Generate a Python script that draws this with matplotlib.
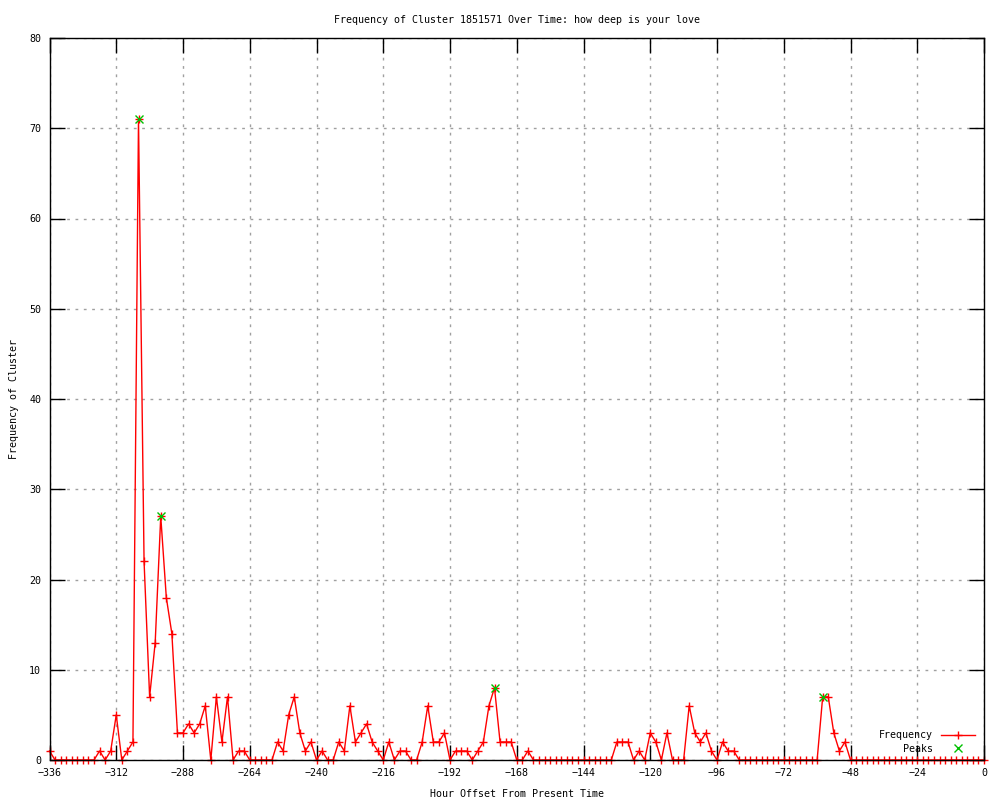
import matplotlib
matplotlib.use("Agg")
import matplotlib.pyplot as plt
import numpy as np

plt.rcParams['font.family'] = 'DejaVu Sans Mono'
plt.rcParams['font.size'] = 7.2

# hourly offsets, one point every 2 hours
hours = np.arange(-336, 1, 2)

freq = [1, 0, 0, 0, 0, 0, 0, 0, 0, 1,
        0, 1, 5, 0, 1, 2, 71, 22, 7, 13,
        27, 18, 14, 3, 3, 4, 3, 4, 6, 0,
        7, 2, 7, 0, 1, 1, 0, 0, 0, 0,
        0, 2, 1, 5, 7, 3, 1, 2, 0, 1,
        0, 0, 2, 1, 6, 2, 3, 4, 2, 1,
        0, 2, 0, 1, 1, 0, 0, 2, 6, 2,
        2, 3, 0, 1, 1, 1, 0, 1, 2, 6,
        8, 2, 2, 2, 0, 0, 1, 0, 0, 0,
        0, 0, 0, 0, 0, 0, 0, 0, 0, 0,
        0, 0, 2, 2, 2, 0, 1, 0, 3, 2,
        0, 3, 0, 0, 0, 6, 3, 2, 3, 1,
        0, 2, 1, 1, 0, 0, 0, 0, 0, 0,
        0, 0, 0, 0, 0, 0, 0, 0, 0, 7,
        7, 3, 1, 2, 0, 0, 0, 0, 0, 0,
        0, 0, 0, 0, 0, 0, 0, 0, 0, 0,
        0, 0, 0, 0, 0, 0, 0, 0, 0]

peak_hours = [-304, -296, -176, -58]
peak_vals = [71, 27, 8, 7]

fig = plt.figure(figsize=(10, 8), dpi=100)
ax = fig.add_axes([0.0495, 0.05, 0.9345, 0.9025])

ax.plot(hours, freq, color='red', linewidth=1, marker='+', markersize=6,
        markeredgewidth=1, label='Frequency', clip_on=False, zorder=2)
ax.plot(peak_hours, peak_vals, linestyle='none', color='#00c000', marker='x',
        markersize=6, markeredgewidth=1, label='Peaks', clip_on=False, zorder=3)

ax.set_xlim(-336, 0)
ax.set_ylim(0, 80)
ax.set_xticks(np.arange(-336, 1, 24))
ax.set_yticks(np.arange(0, 81, 10))
ax.tick_params(direction='in', length=11, width=1, top=True, right=True,
               color='black', pad=6)
ax.grid(True, color='#a0a0a0', linestyle=(0, (2, 4)), linewidth=1)
for s in ax.spines.values():
    s.set_linewidth(1)
    s.set_zorder(4)

ax.set_title("Frequency of Cluster 1851571 Over Time: how deep is your love",
             fontsize=7.2, pad=11)
ax.set_xlabel("Hour Offset From Present Time", labelpad=8)
ax.set_ylabel("Frequency of Cluster")
ax.yaxis.set_label_coords(-0.033, 0.5)

ax.legend(loc='lower right', bbox_to_anchor=(1.0, -0.004), frameon=False,
          markerfirst=False, numpoints=1, handlelength=3.4,
          handletextpad=0.8, labelspacing=0.35, fontsize=7.2)

fig.savefig("out.png", dpi=100)
